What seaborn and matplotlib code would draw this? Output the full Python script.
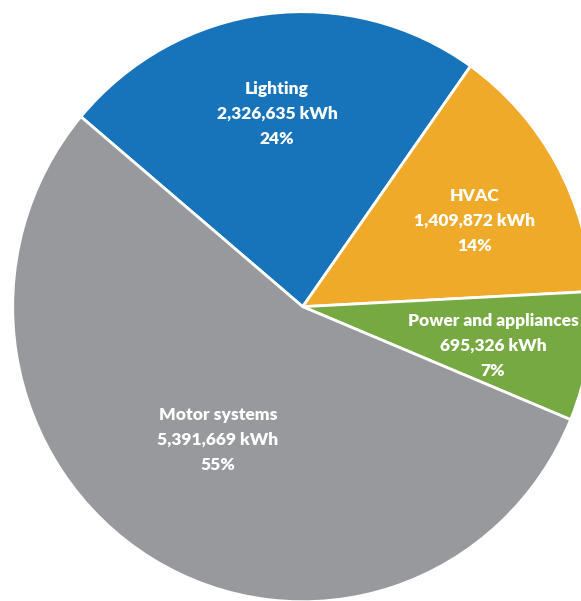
import matplotlib
matplotlib.use("Agg")
import matplotlib.pyplot as plt
import seaborn as sns

categories = ["Lighting", "HVAC", "Power and appliances", "Motor systems"]
energy_kwh = [2326635, 1409872, 695326, 5391669]
percent_labels = ["24%", "14%", "7%", "55%"]
colors = ["#1773BA", "#F0AA29", "#77A942", "#98999D"]

sns.set_style("white")
plt.rcParams["font.family"] = ["Lato", "DejaVu Sans"]

W, H = 581, 601
fig = plt.figure(figsize=(W / 100, H / 100), dpi=100)
ax = fig.add_axes([0, 0, 1, 1])

# pie centre and radii in pixels (slightly taller than wide)
cx, cy, rx, ry = 302.7, 306.7, 290.0, 295.0

ax.pie(energy_kwh, colors=colors, startangle=139.9, counterclock=False,
       radius=1.0, center=(0, 0),
       wedgeprops=dict(edgecolor="white", linewidth=2))
ax.set_aspect("auto")
ax.set_xlim(-cx / rx, (W - cx) / rx)
ax.set_ylim(-(H - cy) / ry, cy / ry)
ax.axis("off")

def px(x, y):
    return (x - cx) / rx, (cy - y) / ry

# label anchor (pixel centre of the middle line)
label_pos = [(277, 114), (475, 221), (493, 346), (218, 440)]
pitch = 25
for name, val, pct, (lx, ly) in zip(categories, energy_kwh, percent_labels, label_pos):
    lines = [name, f"{val:,} kWh", pct]
    for i, line in enumerate(lines):
        x, y = px(lx, ly + (i - 1) * pitch)
        ax.text(x, y, line, ha="center", va="center", color="white",
                fontsize=12.5, fontweight="heavy", clip_on=False)

fig.savefig("out.png", dpi=100)
